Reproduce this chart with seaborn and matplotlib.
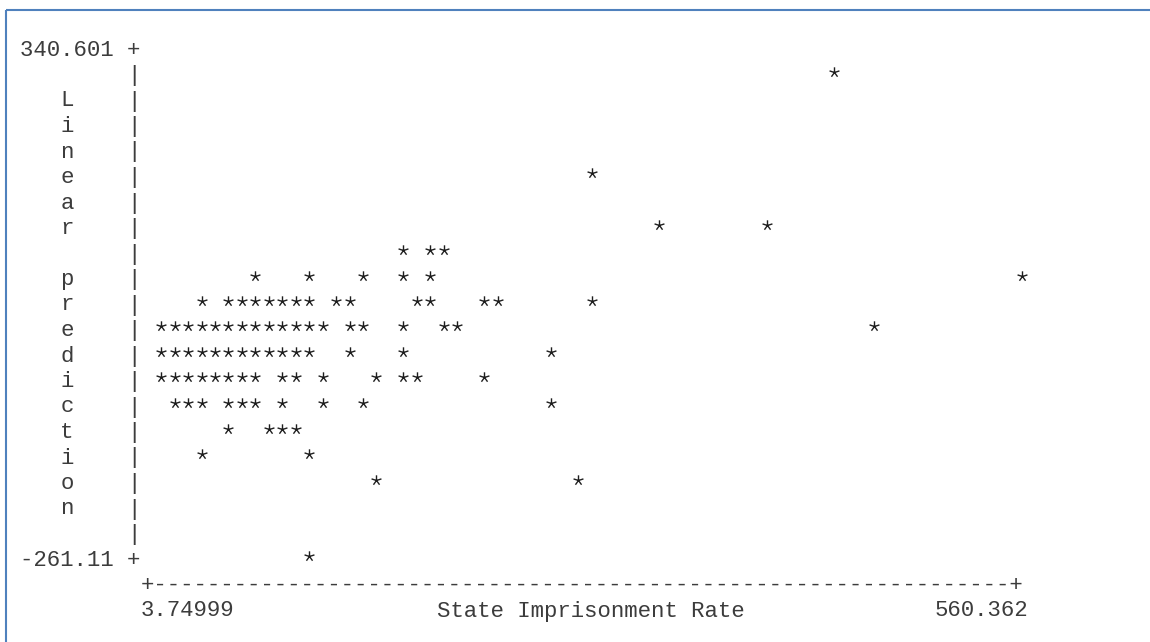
import numpy as np
import pandas as pd
import matplotlib
matplotlib.use("Agg")
import matplotlib.pyplot as plt
from matplotlib.path import Path
from matplotlib.lines import Line2D
from matplotlib.transforms import ScaledTranslation
import seaborn as sns

# ---- observations: state imprisonment rate vs. linear prediction ----
imprisonment_rate = [
    440.5,
    286.3,
    329.2, 397.7,
    166.5, 183.6, 192.1,
    72.3, 106.5, 140.8, 166.5, 183.6, 560.362,
    38.0, 55.1, 63.7, 72.3, 80.8, 89.4, 97.9, 106.5, 123.6, 132.2, 175.0, 183.6, 217.8, 226.4, 286.3,
    12.3, 20.9, 29.4, 38.0, 46.6, 55.1, 63.7, 72.3, 80.8, 89.4, 97.9, 106.5, 115.1, 132.2, 140.8,
    166.5, 192.1, 200.7, 466.2,
    12.3, 20.9, 29.4, 38.0, 46.6, 55.1, 63.7, 72.3, 80.8, 89.4, 97.9, 106.5, 132.2, 166.5, 260.6,
    12.3, 20.9, 29.4, 38.0, 46.6, 55.1, 63.7, 72.3, 89.4, 97.9, 115.1, 149.3, 166.5, 175.0, 217.8,
    20.9, 29.4, 38.0, 55.1, 63.7, 72.3, 89.4, 115.1, 140.8, 260.6,
    55.1, 80.8, 89.4, 97.9,
    38.0, 106.5,
    149.3, 277.8,
    106.5,
]
linear_prediction = (
    [310.5]
    + [190.2]
    + [130.0] * 2
    + [99.9] * 3
    + [69.8] * 6
    + [39.7] * 15
    + [9.7] * 19
    + [-20.4] * 15
    + [-50.5] * 15
    + [-80.6] * 10
    + [-110.7] * 4
    + [-140.8] * 2
    + [-170.9] * 2
    + [-261.11]
)

x_range = [3.74999, 560.362]
y_range = [-261.11, 340.601]
x_tick_labels = ["3.74999", "560.362"]
y_tick_labels = ["340.601", "-261.11"]
x_label = "State Imprisonment Rate"
y_label = "Linear prediction"

df = pd.DataFrame({"rate": imprisonment_rate, "pred": linear_prediction})

# ---- line-printer layout: a character grid ----
W, H, DPI = 1150, 642, 100
N_COLS, N_ROWS = 65, 20          # grid cells between the axis ticks
PITCH_X, PITCH_Y = 13.455, 25.5  # pixels per character cell
ORIGIN_X, ORIGIN_Y = 147.7, 46.0 # pixel centre of the (x min, y max) cell
BASELINE_DROP = 9.5              # text baseline below cell centre, pixels

dx = (x_range[1] - x_range[0]) / N_COLS
dy = (y_range[1] - y_range[0]) / N_ROWS

sns.set_theme(style="white")
plt.rcParams["font.family"] = ["Liberation Mono", "DejaVu Sans Mono"]

fig = plt.figure(figsize=(W / DPI, H / DPI), dpi=DPI)
fig.patch.set_facecolor("white")
ax = fig.add_axes([0, 0, 1, 1])
ax.set_xlim(x_range[0] - ORIGIN_X / PITCH_X * dx,
            x_range[0] + (W - ORIGIN_X) / PITCH_X * dx)
ax.set_ylim(y_range[1] - (H - ORIGIN_Y) / PITCH_Y * dy,
            y_range[1] + ORIGIN_Y / PITCH_Y * dy)
ax.axis("off")


def gx(col):
    return x_range[0] + col * dx


def gy(row):
    return y_range[1] - row * dy


font_pt = PITCH_X / 0.6 * 72 / DPI
text_tf = ax.transData + ScaledTranslation(-PITCH_X / 2 / DPI, -BASELINE_DROP / DPI,
                                           fig.dpi_scale_trans)
TEXT_INK = "#3c3c3c"
MARK_INK = "#1e1e1e"


def put(col, row, s):
    ax.text(gx(col), gy(row), s, transform=text_tf, ha="left", va="baseline",
            fontsize=font_pt, color=TEXT_INK)


# vertical axis
put(-9, 0, f"{y_tick_labels[0]:>7} +")
for r in range(1, N_ROWS):
    put(-1, r, "|")
put(-9, N_ROWS, f"{y_tick_labels[1]:>7} +")
for i, ch in enumerate(y_label):
    if ch != " ":
        put(-6, 2 + i, ch)

# horizontal axis
put(0, N_ROWS + 1, "+" + "-" * (N_COLS - 1) + "+")
put(0, N_ROWS + 2, x_tick_labels[0])
put((N_COLS + 1 - len(x_label) + 1) // 2, N_ROWS + 2, x_label)
put(N_COLS + 1 - len(x_tick_labels[1]), N_ROWS + 2, x_tick_labels[1])

# five-armed asterisk plotting symbol
angles = np.deg2rad(90 + 72 * np.arange(5))
verts, codes = [], []
for a in angles:
    verts += [(0.0, 0.0), (np.cos(a), np.sin(a))]
    codes += [Path.MOVETO, Path.LINETO]
star = Path(verts, codes)

sns.scatterplot(data=df, x="rate", y="pred", ax=ax, marker=star, s=56,
                color=MARK_INK, edgecolor=MARK_INK, linewidth=1.0, legend=False)

# page frame
frame = "#4f81bd"
fig.add_artist(Line2D([5.8 / W, 1], [1 - 10.2 / H, 1 - 10.2 / H],
                      transform=fig.transFigure, color=frame, lw=1.5,
                      solid_capstyle="butt"))
fig.add_artist(Line2D([5.8 / W, 5.8 / W], [0, 1 - 10.2 / H],
                      transform=fig.transFigure, color=frame, lw=1.5,
                      solid_capstyle="butt"))

fig.savefig("out.png", dpi=DPI, facecolor="white")
